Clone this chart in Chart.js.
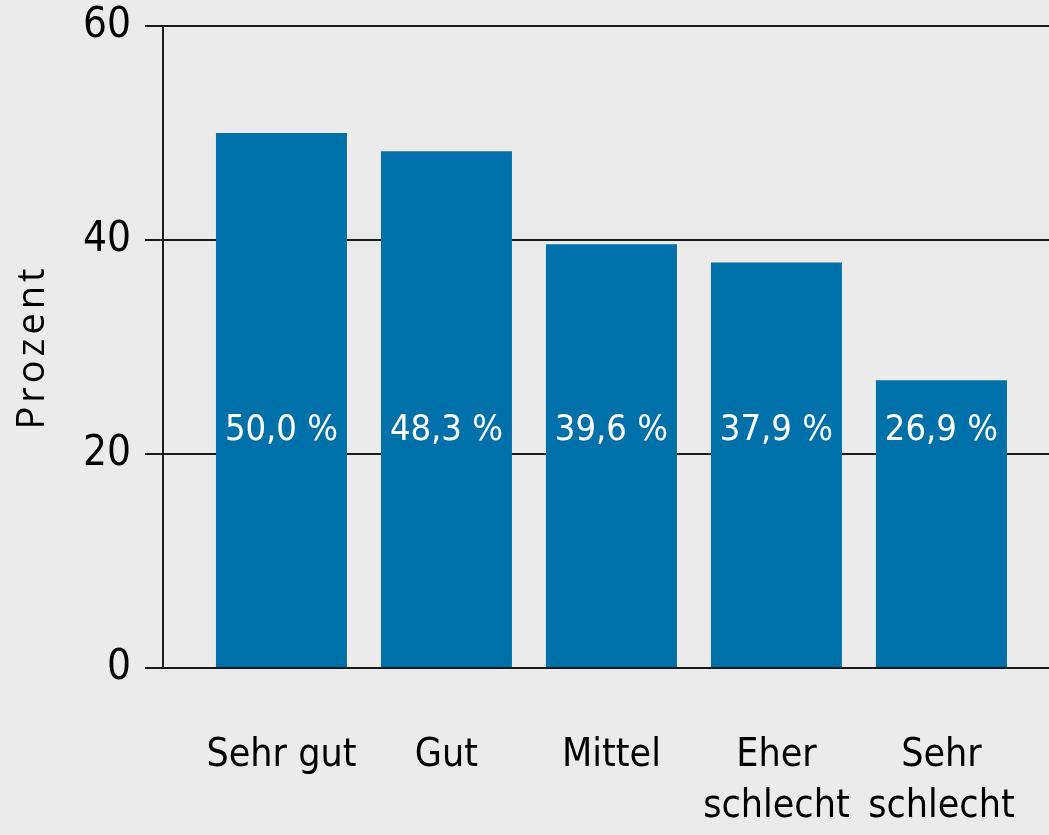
<!DOCTYPE html>
<html>
<head>
<meta charset="utf-8">
<script src="https://cdn.jsdelivr.net/npm/chart.js@4/dist/chart.umd.min.js"></script>
<style>
    html, body { margin: 0; padding: 0; background: #ebebeb; }
    #wrap { width: 1049px; height: 835px; position: relative; }
</style>
</head>
<body>
<div id="wrap"><canvas id="barChart"></canvas></div>
<script>
// Data
const categories = ['Sehr gut', 'Gut', 'Mittel', ['Eher', 'schlecht'], ['Sehr', 'schlecht']];
const values = [50.0, 48.3, 39.6, 37.9, 26.9];
const yTicks = [0, 20, 40, 60];

const narrow = '"Liberation Sans Narrow", "DejaVu Sans Condensed", sans-serif';

// writes the percent value inside each bar, all at the same height
const barLabels = {
    id: 'barLabels',
    afterDatasetsDraw(chart, args, opts) {
        const ctx = chart.ctx;
        const y = chart.scales.y.getPixelForValue(opts.level);
        ctx.save();
        ctx.font = '36px ' + narrow;
        ctx.fillStyle = '#ffffff';
        ctx.textAlign = 'center';
        ctx.textBaseline = 'middle';
        chart.getDatasetMeta(0).data.forEach(function(bar, i) {
            const txt = values[i].toFixed(1).replace('.', ',') + ' %';
            ctx.fillText(txt, bar.x, y);
        });
        ctx.restore();
    }
};

const ctx = document.getElementById('barChart').getContext('2d');
const chart = new Chart(ctx, {
    type: 'bar',
    data: {
        datasets: [{
            data: categories.map((c, i) => ({ x: i, y: values[i] })),
            backgroundColor: '#0070a9',
            borderWidth: 0,
            categoryPercentage: 1,
            barPercentage: 0.794
        }]
    },
    options: {
        responsive: true,
        maintainAspectRatio: false,
        animation: false,
        layout: { padding: { left: 10, top: 0, right: 0, bottom: 7 } },
        plugins: {
            legend: { display: false },
            tooltip: { enabled: false },
            barLabels: { level: 22.2 }
        },
        scales: {
            x: {
                type: 'linear',
                offset: false,
                bounds: 'data',
                min: -0.718,
                max: 4.652,
                afterBuildTicks: function(scale) {
                    scale.ticks = categories.map((c, i) => ({ value: i }));
                },
                afterFit: function(scale) {
                    scale.height = 160;
                    scale.paddingLeft = 0;
                    scale.paddingRight = 0;
                },
                grid: { display: false, drawTicks: false },
                border: { display: false },
                ticks: {
                    autoSkip: false,
                    maxRotation: 0,
                    padding: 63,
                    color: '#000',
                    font: { family: narrow, size: 39, lineHeight: 1.3 },
                    callback: function(v) { return categories[v]; }
                }
            },
            y: {
                min: 0,
                max: 60,
                afterBuildTicks: function(scale) {
                    scale.ticks = yTicks.map(v => ({ value: v }));
                },
                afterFit: function(scale) {
                    scale.width = 153;
                    scale.paddingTop = 26;
                    scale.paddingBottom = 0;
                    // wider letter spacing for the axis title, as in the original
                    if (!scale._spaced) {
                        const drawTitle = scale.drawTitle.bind(scale);
                        scale.drawTitle = function() {
                            scale.ctx.save();
                            scale.ctx.letterSpacing = '4px';
                            drawTitle();
                            scale.ctx.restore();
                        };
                        scale._spaced = true;
                    }
                },
                grid: { color: '#1a1a1a', lineWidth: 2, tickLength: 18 },
                border: { color: '#1a1a1a', width: 2 },
                ticks: {
                    padding: 14,
                    color: '#000',
                    font: { family: narrow, size: 42, lineHeight: 1 }
                },
                title: {
                    display: true,
                    text: 'Prozent',
                    color: '#000',
                    padding: 0,
                    font: { family: '"Open Sans", sans-serif', size: 38 }
                }
            }
        }
    },
    plugins: [barLabels]
});
</script>
</body>
</html>
